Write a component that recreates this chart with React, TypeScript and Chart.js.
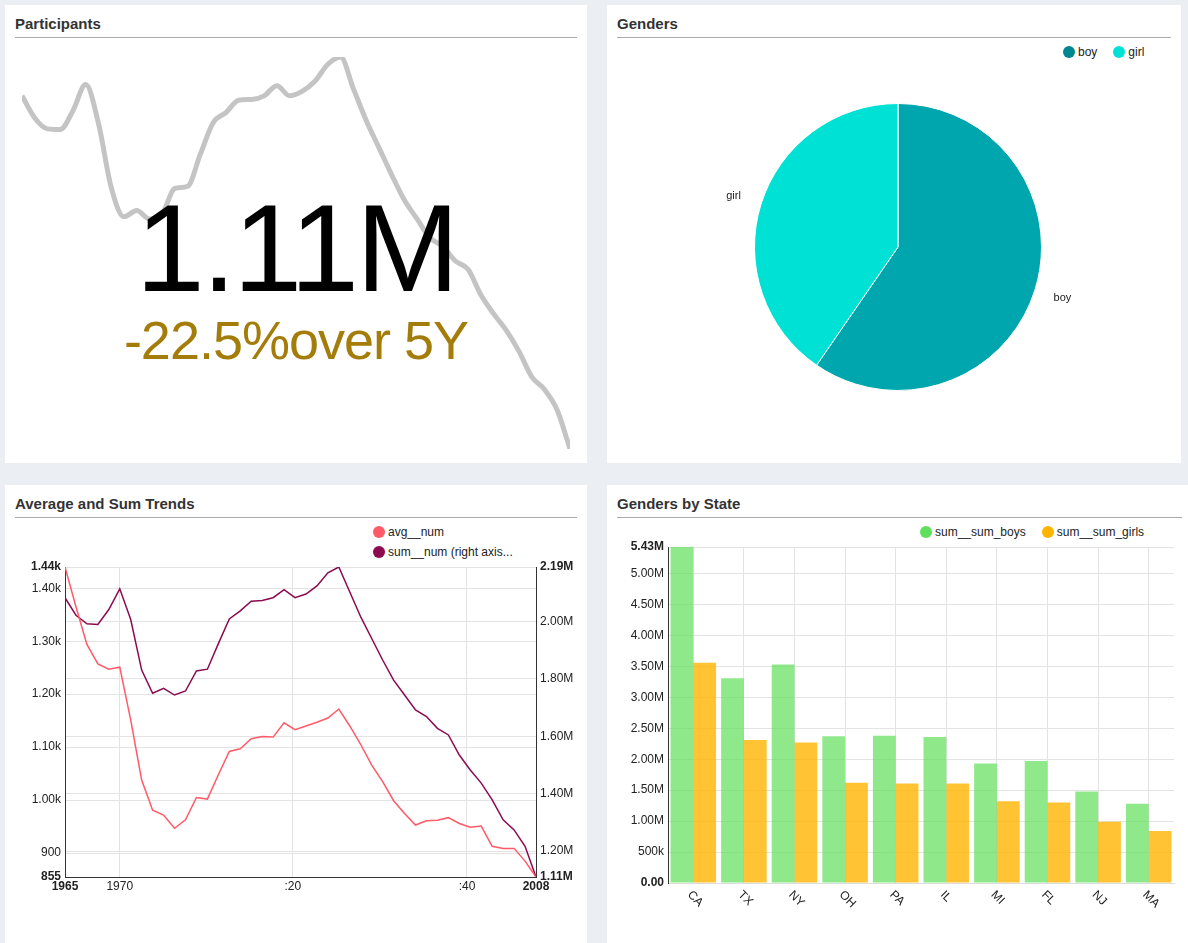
import { useEffect, useRef } from 'react'
import { Chart, registerables, type Plugin } from 'chart.js'

Chart.register(...registerables)
Chart.defaults.font.family = '"Liberation Sans", Arial, sans-serif'
Chart.defaults.color = '#222'

const years = Array.from({ length: 44 }, (_, i) => 1965 + i)
const avgNum = [
  1440, 1365, 1294, 1257, 1247, 1251, 1151, 1038, 981, 972, 947, 963, 1005, 1002, 1048, 1092, 1097, 1116, 1120, 1119,
  1146, 1133, 1140, 1147, 1155, 1172, 1140, 1105, 1066, 1035, 999, 975, 953, 961, 962, 967, 956, 949, 951, 913, 909,
  909, 885, 855,
]
const sumNum = [
  2.083, 2.022, 1.992, 1.99, 2.042, 2.114, 2.007, 1.831, 1.75, 1.767, 1.744, 1.758, 1.828, 1.834, 1.923, 2.009, 2.037,
  2.071, 2.073, 2.083, 2.111, 2.083, 2.096, 2.124, 2.17, 2.19, 2.103, 2.016, 1.941, 1.866, 1.796, 1.744, 1.692, 1.669,
  1.628, 1.605, 1.535, 1.483, 1.437, 1.379, 1.309, 1.274, 1.217, 1.11,
].map((v) => v * 1e6)
const xTicks = [1965, 1970, 1985.8, 2001.7, 2008]
const xTickLabels = ['1965', '1970', ':20', ':40', '2008']
const leftTicks = [855, 900, 1000, 1100, 1200, 1300, 1400, 1440]
const rightTicks = [1.11e6, 1.2e6, 1.4e6, 1.6e6, 1.8e6, 2.0e6, 2.19e6]

const genders = ['boy', 'girl']
const genderShares = [59.6, 40.4]

const states = ['CA', 'TX', 'NY', 'OH', 'PA', 'IL', 'MI', 'FL', 'NJ', 'MA']
const boys = [5.43, 3.31, 3.53, 2.37, 2.38, 2.36, 1.93, 1.97, 1.48, 1.28].map((v) => v * 1e6)
const girls = [3.56, 2.31, 2.27, 1.62, 1.61, 1.61, 1.32, 1.3, 0.99, 0.84].map((v) => v * 1e6)
const barTicks = [0, 0.5e6, 1e6, 1.5e6, 2e6, 2.5e6, 3e6, 3.5e6, 4e6, 4.5e6, 5e6, 5.43e6]

const FONT = '"Liberation Sans", Arial, sans-serif'
const boldEnds = (n: number) => (ctx: { index: number }) =>
  ({ size: 12, family: FONT, weight: ctx.index === 0 || ctx.index === n - 1 ? 'bold' : 'normal' }) as const

function useChart(make: (c: HTMLCanvasElement) => Chart) {
  const ref = useRef<HTMLCanvasElement>(null)
  useEffect(() => {
    if (!ref.current) return
    const chart = make(ref.current)
    return () => chart.destroy()
  }, [])
  return ref
}

function Panel({ title, left, top, width, height, children }: any) {
  return (
    <div style={{ position: 'absolute', left, top, width, height, background: '#fff' }}>
      <div style={{ position: 'absolute', left: 10, right: 10, top: 10, height: 22, borderBottom: '1px solid #aaa', font: `bold 15px ${FONT}`, color: '#333' }}>
        {title}
      </div>
      {children}
    </div>
  )
}

function Legend({ items, style }: { items: [string, string][]; style: any }) {
  return (
    <div style={{ position: 'absolute', font: `12px ${FONT}`, color: '#222', ...style }}>
      {items.map(([label, color]) => (
        <span key={label} style={{ display: style.vertical ? 'flex' : 'inline-flex', alignItems: 'center', marginRight: 16, height: 20 }}>
          <span style={{ width: 12, height: 12, borderRadius: 6, background: color, marginRight: 3 }} />
          {label}
        </span>
      ))}
    </div>
  )
}

function Sparkline() {
  const ref = useChart(
    (c) =>
      new Chart(c, {
        type: 'line',
        data: { labels: years, datasets: [{ data: sumNum, borderColor: '#c4c4c4', borderWidth: 5, pointRadius: 0, tension: 0.4, cubicInterpolationMode: 'monotone' }] },
        options: {
          animation: false, responsive: true, maintainAspectRatio: false,
          plugins: { legend: { display: false }, tooltip: { enabled: false } },
          scales: { x: { display: false }, y: { display: false, min: 1.11e6, max: 2.19e6 } },
        },
      })
  )
  return (
    <div style={{ position: 'absolute', left: 17, right: 17, top: 52, bottom: 14 }}>
      <canvas ref={ref} />
    </div>
  )
}

const pieLabels: Plugin<'pie'> = {
  id: 'pieLabels',
  afterDatasetsDraw(chart) {
    const { ctx } = chart
    const meta = chart.getDatasetMeta(0)
    ctx.save()
    ctx.font = `11px ${FONT}`
    ctx.fillStyle = '#222'
    ctx.textAlign = 'center'
    ctx.textBaseline = 'middle'
    meta.data.forEach((arc: any, i) => {
      const mid = (arc.startAngle + arc.endAngle) / 2
      const r = arc.outerRadius * 1.2
      ctx.fillText(String(chart.data.labels![i]), arc.x + Math.cos(mid) * r, arc.y + Math.sin(mid) * r)
    })
    ctx.restore()
  },
}

function Pie() {
  const ref = useChart(
    (c) =>
      new Chart(c, {
        type: 'pie',
        data: { labels: genders, datasets: [{ data: genderShares, backgroundColor: ['#00a6ad', '#00e1d6'], borderColor: '#fff', borderWidth: 1 }] },
        options: {
          animation: false, responsive: true, maintainAspectRatio: false, layout: { padding: 56 },
          plugins: { legend: { display: false }, tooltip: { enabled: false } },
        },
        plugins: [pieLabels],
      })
  )
  return (
    <div style={{ position: 'absolute', left: 91, top: 42, width: 400, height: 400 }}>
      <canvas ref={ref} />
    </div>
  )
}

function Trends() {
  const ref = useChart(
    (c) =>
      new Chart(c, {
        type: 'line',
        data: {
          datasets: [
            { label: 'avg__num', data: years.map((x, i) => ({ x, y: avgNum[i] })), borderColor: '#ff5a68', borderWidth: 1.5, pointRadius: 0, yAxisID: 'y' },
            { label: 'sum__num', data: years.map((x, i) => ({ x, y: sumNum[i] })), borderColor: '#8b0a50', borderWidth: 1.5, pointRadius: 0, yAxisID: 'y1' },
          ],
        },
        options: {
          animation: false, responsive: true, maintainAspectRatio: false,
          layout: { padding: { top: 22 } },
          plugins: { legend: { display: false }, tooltip: { enabled: false } },
          scales: {
            x: {
              type: 'linear', min: 1965, max: 2008,
              afterBuildTicks: (s) => { s.ticks = xTicks.map((value) => ({ value })) },
              afterFit: (s) => { s.height = 33 },
              ticks: { autoSkip: false, maxRotation: 0, padding: 2, font: boldEnds(xTicks.length) as any, callback: (_v, i) => xTickLabels[i] },
              grid: { color: '#e3e3e3', drawTicks: false },
              border: { color: '#333' },
            },
            y: {
              min: 855, max: 1440,
              afterBuildTicks: (s) => { s.ticks = leftTicks.map((value) => ({ value })) },
              afterFit: (s) => { s.width = 60 },
              ticks: { autoSkip: false, padding: 4, font: boldEnds(leftTicks.length) as any, callback: (v) => (+v >= 1000 ? (+v / 1000).toFixed(2) + 'k' : String(v)) },
              grid: { color: '#e3e3e3', drawTicks: false },
              border: { color: '#333' },
            },
            y1: {
              position: 'right', min: 1.11e6, max: 2.19e6,
              afterBuildTicks: (s) => { s.ticks = rightTicks.map((value) => ({ value })) },
              afterFit: (s) => { s.width = 51 },
              ticks: { autoSkip: false, padding: 4, font: boldEnds(rightTicks.length) as any, callback: (v) => (+v / 1e6).toFixed(2) + 'M' },
              grid: { color: '#e3e3e3', drawTicks: false },
              border: { color: '#333' },
            },
          },
        },
      })
  )
  return (
    <div style={{ position: 'absolute', left: 0, right: 0, top: 60, height: 365 }}>
      <canvas ref={ref} />
    </div>
  )
}

const rotatedLabels: Plugin<'bar'> = {
  id: 'rotatedLabels',
  afterDraw(chart) {
    const { ctx } = chart
    const x = chart.scales.x
    ctx.save()
    ctx.font = `12px ${FONT}`
    ctx.fillStyle = '#222'
    states.forEach((s, i) => {
      ctx.save()
      ctx.translate(x.getPixelForValue(i) - 4, x.top + 10)
      ctx.rotate(Math.PI / 4)
      ctx.textBaseline = 'middle'
      ctx.fillText(s, 0, 0)
      ctx.restore()
    })
    ctx.restore()
  },
}

function StateBars() {
  const ref = useChart(
    (c) =>
      new Chart(c, {
        type: 'bar',
        data: {
          labels: states,
          datasets: [
            { label: 'sum__sum_boys', data: boys, backgroundColor: 'rgba(95,224,90,0.7)' },
            { label: 'sum__sum_girls', data: girls, backgroundColor: 'rgba(255,180,0,0.8)' },
          ],
        },
        options: {
          animation: false, responsive: true, maintainAspectRatio: false,
          layout: { padding: { top: 12, right: 18 } },
          datasets: { bar: { categoryPercentage: 0.9, barPercentage: 1 } },
          plugins: { legend: { display: false }, tooltip: { enabled: false } },
          scales: {
            x: {
              ticks: { display: false },
              afterFit: (s) => { s.height = 37 },
              grid: { color: '#e3e3e3', offset: false, drawTicks: false },
              border: { color: '#ddd' },
            },
            y: {
              min: 0, max: 5.43e6,
              afterBuildTicks: (s) => { s.ticks = barTicks.map((value) => ({ value })) },
              afterFit: (s) => { s.width = 61 },
              ticks: {
                autoSkip: false, padding: 4, font: boldEnds(barTicks.length) as any,
                callback: (v) => (+v === 0 ? '0.00' : +v < 1e6 ? +v / 1000 + 'k' : (+v / 1e6).toFixed(2) + 'M'),
              },
              grid: { color: '#e3e3e3', drawTicks: false },
              border: { color: '#333' },
            },
          },
        },
        plugins: [rotatedLabels],
      })
  )
  return (
    <div style={{ position: 'absolute', left: 0, right: 0, top: 50, height: 385 }}>
      <canvas ref={ref} />
    </div>
  )
}

export default function App() {
  return (
    <div style={{ position: 'fixed', inset: 0, background: '#ebeef3', overflow: 'hidden' }}>
      <Panel title="Participants" left={5} top={5} width={582} height={458}>
        <Sparkline />
        <div style={{ position: 'absolute', left: 0, right: 0, top: 168, textAlign: 'center', font: `124px ${FONT}`, color: '#000', lineHeight: '150px', letterSpacing: -3 }}>
          1.11M
        </div>
        <div style={{ position: 'absolute', left: 0, right: 0, top: 300, textAlign: 'center', font: `54px ${FONT}`, color: '#a47c0a', lineHeight: '70px', letterSpacing: -1 }}>
          -22.5%over 5Y
        </div>
      </Panel>
      <Panel title="Genders" left={607} top={5} width={574} height={458}>
        <Legend items={[['boy', '#00878f'], ['girl', '#00e1d6']]} style={{ left: 456, top: 37 }} />
        <Pie />
      </Panel>
      <Panel title="Average and Sum Trends" left={5} top={485} width={582} height={460}>
        <Legend items={[['avg__num', '#ff5a68'], ['sum__num (right axis...', '#8b0a50']]} style={{ left: 368, top: 37, width: 160, vertical: true }} />
        <Trends />
      </Panel>
      <Panel title="Genders by State" left={607} top={485} width={585} height={460}>
        <Legend items={[['sum__sum_boys', '#5fe05a'], ['sum__sum_girls', '#ffb400']]} style={{ left: 313, top: 37 }} />
        <StateBars />
      </Panel>
    </div>
  )
}
